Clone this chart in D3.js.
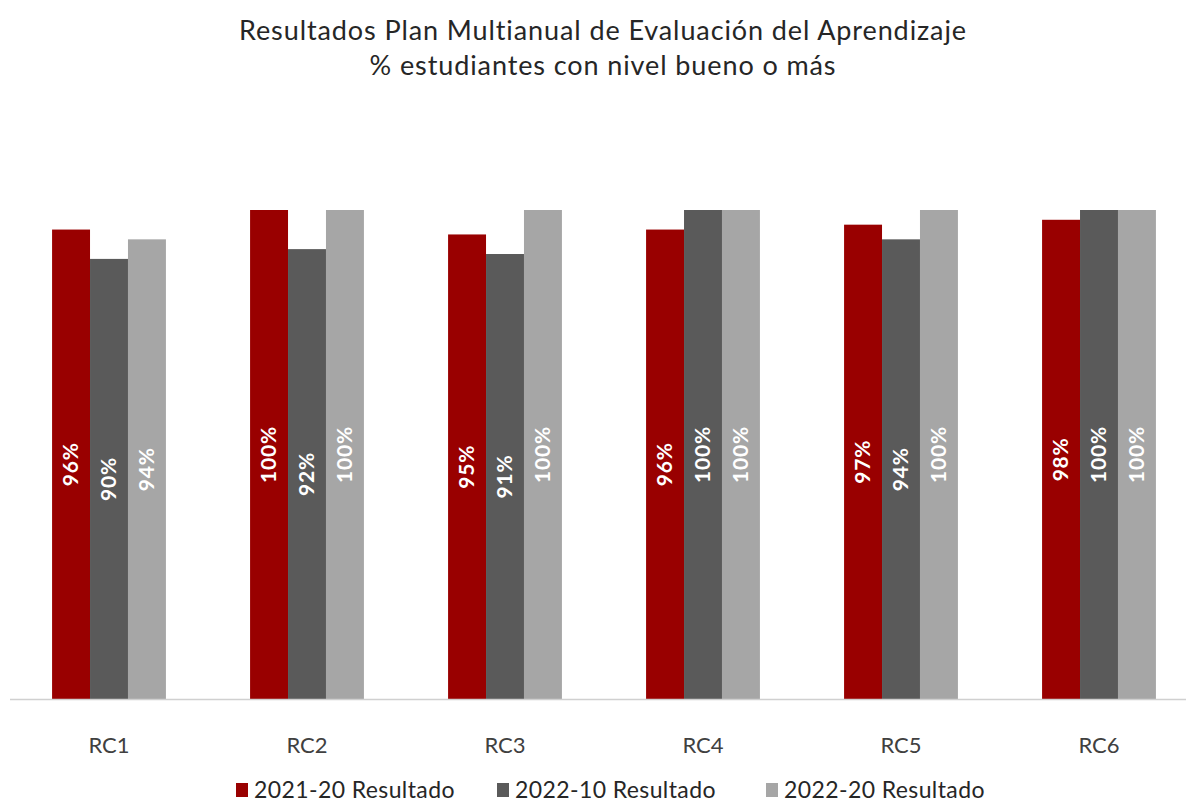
<!DOCTYPE html>
<html>
<head>
<meta charset="utf-8">
<script src="https://cdn.jsdelivr.net/npm/d3@7"></script>
<style>
  body { margin: 0; background: #fff; }
  svg { display: block; font-family: Lato, "Open Sans", sans-serif; }
</style>
</head>
<body>
<div id="chart"></div>
<script>
// Data
const categories = ["RC1", "RC2", "RC3", "RC4", "RC5", "RC6"];
const seriesNames = ["2021-20 Resultado", "2022-10 Resultado", "2022-20 Resultado"];
const serie2021_20 = [0.96, 1.00, 0.95, 0.96, 0.97, 0.98];
const serie2022_10 = [0.90, 0.92, 0.91, 1.00, 0.94, 1.00];
const serie2022_20 = [0.94, 1.00, 1.00, 1.00, 1.00, 1.00];
const colors = ["#990000", "#5a5a5a", "#a6a6a6"];

const width = 1186, height = 803;
const allSeries = [serie2021_20, serie2022_10, serie2022_20];

const svg = d3.select("#chart").append("svg")
    .attr("width", width)
    .attr("height", height);

// Title
svg.append("text")
    .attr("x", 603).attr("y", 40)
    .attr("text-anchor", "middle")
    .attr("font-size", 27).attr("letter-spacing", 0.9).attr("fill", "#262626")
    .text("Resultados Plan Multianual de Evaluación del Aprendizaje");
svg.append("text")
    .attr("x", 603).attr("y", 75)
    .attr("text-anchor", "middle")
    .attr("font-size", 27).attr("letter-spacing", 0.9).attr("fill", "#262626")
    .text("% estudiantes con nivel bueno o más");

// Scales
const x0 = d3.scaleBand()
    .domain(categories)
    .range([10, 1198])
    .paddingInner(0.425)
    .paddingOuter(0.2125);

const x1 = d3.scaleBand()
    .domain(d3.range(seriesNames.length))
    .range([0, x0.bandwidth()]);

const y = d3.scaleLinear()
    .domain([0, 1])
    .range([699, 210]);

// Bars
const groups = svg.append("g").selectAll("g")
    .data(categories)
    .join("g")
    .attr("transform", d => `translate(${x0(d)},0)`);

const cells = groups.selectAll("g.cell")
    .data((c, ci) => allSeries.map((s, si) => ({ si, value: s[ci] })))
    .join("g")
    .attr("class", "cell");

cells.append("rect")
    .attr("x", d => x1(d.si))
    .attr("y", d => y(d.value))
    .attr("width", x1.bandwidth())
    .attr("height", d => y(0) - y(d.value))
    .attr("fill", d => colors[d.si]);

cells.append("text")
    .attr("transform", d => {
        const cx = x1(d.si) + x1.bandwidth() / 2;
        const cy = (y(d.value) + y(0)) / 2;
        return `translate(${cx},${cy}) rotate(-90)`;
    })
    .attr("text-anchor", "middle")
    .attr("dy", "0.35em")
    .attr("font-size", 21)
    .attr("font-weight", "bold")
    .attr("letter-spacing", 0.8)
    .attr("fill", "#fff")
    .text(d => d3.format(".0%")(d.value));

// X axis
const xAxis = svg.append("g")
    .attr("transform", `translate(0,${y(0)})`)
    .call(d3.axisBottom(x0).tickSize(0).tickPadding(38));
xAxis.select(".domain").remove();
xAxis.selectAll("text")
    .attr("font-size", 22)
    .attr("font-family", "Lato, 'Open Sans', sans-serif")
    .attr("fill", "#404040");

svg.append("line")
    .attr("x1", 10).attr("x2", 1186)
    .attr("y1", y(0) + 0.5).attr("y2", y(0) + 0.5)
    .attr("stroke", "#d0d0d0")
    .attr("stroke-width", 1.5);

// Legend
const legendX = [236, 497, 766];
const legend = svg.append("g").selectAll("g")
    .data(seriesNames)
    .join("g")
    .attr("transform", (d, i) => `translate(${legendX[i]},790)`);
legend.append("rect")
    .attr("x", 0).attr("y", -7)
    .attr("width", 12).attr("height", 14)
    .attr("fill", (d, i) => colors[i]);
legend.append("text")
    .attr("x", 18).attr("dy", "0.35em")
    .attr("font-size", 23)
    .attr("letter-spacing", 0.4)
    .attr("fill", "#262626")
    .text(d => d);
</script>
</body>
</html>
